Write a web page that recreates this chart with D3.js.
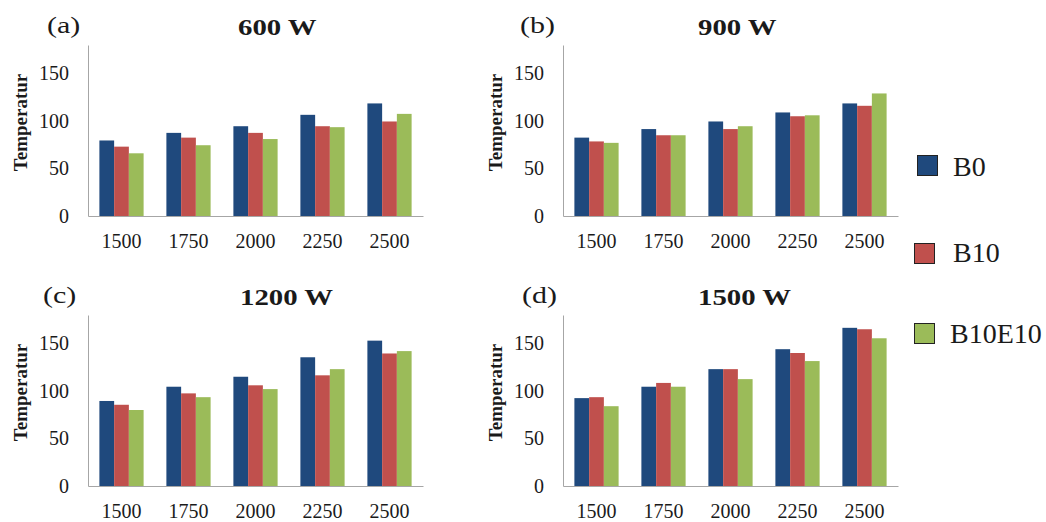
<!DOCTYPE html>
<html>
<head>
<meta charset="utf-8">
<script src="https://cdn.jsdelivr.net/npm/d3@7"></script>
<style>
  html, body { margin: 0; padding: 0; background: #fff; }
  svg { display: block; }
  text { font-family: "Liberation Serif", "Times New Roman", serif; }
</style>
</head>
<body>
<svg id="chart" width="1046" height="522"></svg>
<script>
// ---- data ----
const categories = ["1500", "1750", "2000", "2250", "2500"];
const seriesNames = ["B0", "B10", "B10E10"];
const panelTitles = ["600 W", "900 W", "1200 W", "1500 W"];
const panelLetters = ["(a)", "(b)", "(c)", "(d)"];
const yTicks = [0, 50, 100, 150];
const yLabel = "Temperatur";

const b0_600     = [79.5, 87.5, 94.5, 106.5, 118.5];
const b10_600    = [73, 82.5, 87.5, 94.5, 99.5];
const b10e10_600 = [66, 74.5, 81, 93.5, 107.5];

const b0_900     = [82.5, 91.5, 99.5, 109, 118.5];
const b10_900    = [78.5, 85, 91.5, 105, 116];
const b10e10_900 = [77, 85, 94.5, 106, 129];

const b0_1200     = [89.5, 104.5, 115, 135.5, 153];
const b10_1200    = [85.5, 97.5, 106, 116.5, 139.5];
const b10e10_1200 = [80, 93.5, 102, 123, 142];

const b0_1500     = [92.5, 104.5, 123, 144, 166.5];
const b10_1500    = [93.5, 108.5, 123, 140, 165];
const b10e10_1500 = [84, 104.5, 112.5, 131.5, 155.5];

const panelData = [
  [b0_600, b10_600, b10e10_600],
  [b0_900, b10_900, b10e10_900],
  [b0_1200, b10_1200, b10e10_1200],
  [b0_1500, b10_1500, b10e10_1500]
];

// ---- style / layout ----
const colors = ["#1F497D", "#C0504D", "#9BBB59"];
const axisColor = "#a6a6a6";
const textColor = "#1a1a1a";
const serif = "'Liberation Serif', 'Times New Roman', serif";

const svg = d3.select("#chart");

const panels = [
  { x0: 88,  x1: 423, y0: 45,  y1: 216, letterX: 47,  titleX: 238, baseY: 0 },
  { x0: 563, x1: 898, y0: 45,  y1: 216, letterX: 520, titleX: 698, baseY: 0 },
  { x0: 88,  x1: 423, y0: 315, y1: 486, letterX: 43,  titleX: 240, baseY: 270 },
  { x0: 563, x1: 898, y0: 315, y1: 486, letterX: 522, titleX: 698, baseY: 270 }
];

const color = d3.scaleOrdinal().domain(seriesNames).range(colors);

panels.forEach((p, i) => {
  const g = svg.append("g");
  const x = d3.scaleBand().domain(categories).range([p.x0, p.x1])
    .paddingInner(0.34).paddingOuter(0.17);
  const xs = d3.scaleBand().domain(seriesNames).range([0, x.bandwidth()]).padding(0);
  const y = d3.scaleLinear().domain([0, 180]).range([p.y1, p.y0]);

  // bars
  seriesNames.forEach((s, si) => {
    g.append("g").selectAll("rect")
      .data(panelData[i][si].map((v, ci) => ({ cat: categories[ci], v })))
      .join("rect")
      .attr("x", d => x(d.cat) + xs(s))
      .attr("y", d => y(d.v))
      .attr("width", xs.bandwidth())
      .attr("height", d => y(0) - y(d.v))
      .attr("fill", color(s));
  });

  // y axis
  const ya = g.append("g").attr("transform", `translate(${p.x0},0)`)
    .call(d3.axisLeft(y).tickValues(yTicks).tickSize(0).tickPadding(19));
  ya.attr("font-family", serif);
  ya.select(".domain").attr("stroke", axisColor);
  ya.selectAll("text").attr("font-size", 20).attr("fill", textColor);

  // x axis
  const xa = g.append("g").attr("transform", `translate(0,${p.y1})`)
    .call(d3.axisBottom(x).tickSize(0).tickPadding(18));
  xa.attr("font-family", serif);
  xa.select(".domain").attr("stroke", axisColor);
  xa.selectAll("text").attr("font-size", 20).attr("fill", textColor);

  // y label
  g.append("text")
    .attr("transform", `translate(${p.x0 - 61},${(p.y0 + p.y1) / 2 - 8}) rotate(-90)`)
    .attr("text-anchor", "middle")
    .attr("font-size", 19).attr("font-weight", "bold").attr("fill", textColor)
    .text(yLabel);

  // panel letter
  g.append("text")
    .attr("transform", `translate(${p.letterX},${p.baseY + 33}) scale(1.25,1)`)
    .attr("font-size", 24).attr("fill", textColor)
    .text(panelLetters[i]);

  // title
  g.append("text")
    .attr("transform", `translate(${p.titleX},${p.baseY + 35}) scale(1.2,1)`)
    .attr("font-size", 24).attr("font-weight", "bold").attr("fill", textColor)
    .text(panelTitles[i]);
});

// legend
const legendItems = [
  { sx: 917, sy: 155, tx: 953, ty: 176 },
  { sx: 914, sy: 243, tx: 953, ty: 262 },
  { sx: 914, sy: 323, tx: 950, ty: 343 }
];
const lg = svg.append("g");
seriesNames.forEach((s, i) => {
  const L = legendItems[i];
  lg.append("rect")
    .attr("x", L.sx + 0.5).attr("y", L.sy + 0.5)
    .attr("width", 20).attr("height", 20)
    .attr("fill", color(s)).attr("stroke", "#222").attr("stroke-width", 1);
  lg.append("text")
    .attr("x", L.tx).attr("y", L.ty)
    .attr("font-size", 28).attr("fill", textColor)
    .text(s);
});
</script>
</body>
</html>
